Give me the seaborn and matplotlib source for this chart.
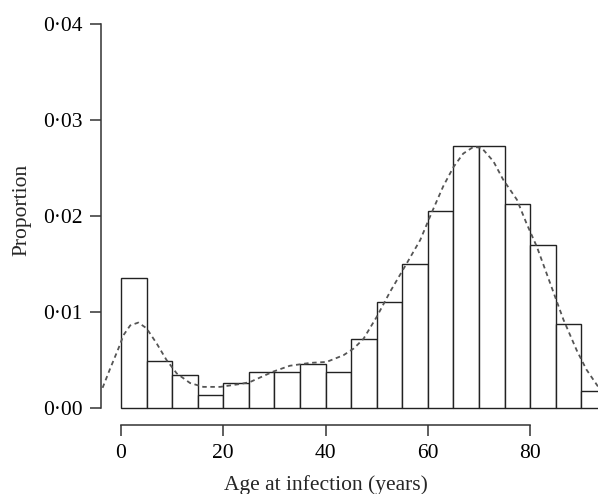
import numpy as np
import pandas as pd
import matplotlib
matplotlib.use("Agg")
import matplotlib.pyplot as plt
import seaborn as sns

# Histogram: bin edges (years) and bar heights (proportion per year)
bin_edges = [0, 5, 10, 15, 20, 25, 30, 35, 40, 45, 50, 55, 60, 65, 70, 75, 80, 85, 90, 95]
bar_heights = [0.0135, 0.0049, 0.0034, 0.0014, 0.0026, 0.0037, 0.0037, 0.0046, 0.0037,
               0.0072, 0.0110, 0.0150, 0.0205, 0.0273, 0.0273, 0.0213, 0.0170, 0.0087, 0.0018]

# Smoothed density curve (dashed)
curve_x = [-3.6, -2.2, -0.5, 0.5, 1.8, 3.4, 5.0, 7.0, 8.9, 10.9, 13.5, 16.1, 19.4, 23.3,
           25.2, 29.8, 33.0, 37.0, 40.2, 43.5, 45.5, 47.4, 50.0, 52.6, 55.9, 58.5, 60.7,
           63.0, 65.0, 66.9, 68.9, 70.5, 72.8, 74.7, 77.4, 79.3, 81.3, 83.9, 86.5, 89.1,
           91.0, 93.3]
curve_y = [0.0021, 0.0040, 0.0062, 0.0076, 0.0086, 0.0089, 0.0083, 0.0067, 0.0050, 0.0036,
           0.0026, 0.0022, 0.0022, 0.0025, 0.0027, 0.0038, 0.0044, 0.0047, 0.0048, 0.0055,
           0.0062, 0.0072, 0.0095, 0.0121, 0.0151, 0.0175, 0.0203, 0.0231, 0.0251, 0.0265,
           0.0272, 0.0271, 0.0257, 0.0238, 0.0217, 0.0192, 0.0168, 0.0130, 0.0092, 0.0060,
           0.0040, 0.0022]

y_ticks = [0.00, 0.01, 0.02, 0.03, 0.04]
y_tick_labels = ["0·00", "0·01", "0·02", "0·03", "0·04"]
x_ticks = [0, 20, 40, 60, 80]
x_tick_labels = ["0", "20", "40", "60", "80"]

sns.set_theme(style="ticks")
plt.rcParams["font.family"] = ["Liberation Serif", "DejaVu Serif"]
FS = 15.5
plt.rcParams["font.size"] = FS

fig = plt.figure(figsize=(5.98, 4.94), dpi=100)
W, H = 598, 494
left_px, right_px, top_px, bottom_px = 101, 598, 9, 425
ax_w, ax_h = right_px - left_px, bottom_px - top_px
ax = fig.add_axes([left_px / W, (H - bottom_px) / H, ax_w / W, ax_h / H])

centers = [(a + b) / 2 for a, b in zip(bin_edges[:-1], bin_edges[1:])]
df = pd.DataFrame({"age": centers, "prop": bar_heights})
sns.histplot(data=df, x="age", weights="prop", bins=bin_edges, stat="count",
             color="white", edgecolor="#222222", linewidth=1.0, alpha=1.0, ax=ax)

cdf = pd.DataFrame({"x": curve_x, "y": curve_y})
sns.lineplot(data=cdf, x="x", y="y", ax=ax, color="#555555", linewidth=1.3,
             linestyle=(0, (2.5, 2.0)), sort=False)

# axes ranges calibrated from the picture
x_per_px = 1 / 5.115
y_per_px = 0.01 / 96
x0 = 0 - (121 - left_px) * x_per_px
x1 = 0 + (right_px - 121) * x_per_px
y0 = 0 - (bottom_px - 408) * y_per_px
y1 = 0 + (408 - top_px) * y_per_px
ax.set_xlim(x0, x1)
ax.set_ylim(y0, y1)

ax.set_yticks(y_ticks)
ax.set_yticklabels(y_tick_labels)
ax.set_xticks(x_ticks)
ax.set_xticklabels(x_tick_labels)

for s in ["top", "right"]:
    ax.spines[s].set_visible(False)
ax.spines["left"].set_bounds(0, 0.04)
ax.spines["bottom"].set_bounds(0, 80)
for s in ["left", "bottom"]:
    ax.spines[s].set_color("#333333")
    ax.spines[s].set_linewidth(1.1)

ax.tick_params(axis="both", direction="out", length=8, width=1.1, color="#333333",
               labelsize=FS, labelcolor="black")
ax.tick_params(axis="y", pad=5.5)
ax.tick_params(axis="x", pad=5.5)

ax.set_xlabel("Age at infection (years)", fontsize=FS)
ax.set_ylabel("Proportion", fontsize=FS)
ax.xaxis.set_label_coords((325.5 - left_px) / ax_w, (bottom_px - 490) / ax_h)
ax.xaxis.label.set_verticalalignment("baseline")
ax.yaxis.set_label_coords((22.0 - left_px) / ax_w, (bottom_px - 210) / ax_h)
ax.yaxis.label.set_verticalalignment("center")
ax.grid(False)
ax.set_facecolor("white")

fig.savefig("out.png", dpi=100, facecolor="white")
